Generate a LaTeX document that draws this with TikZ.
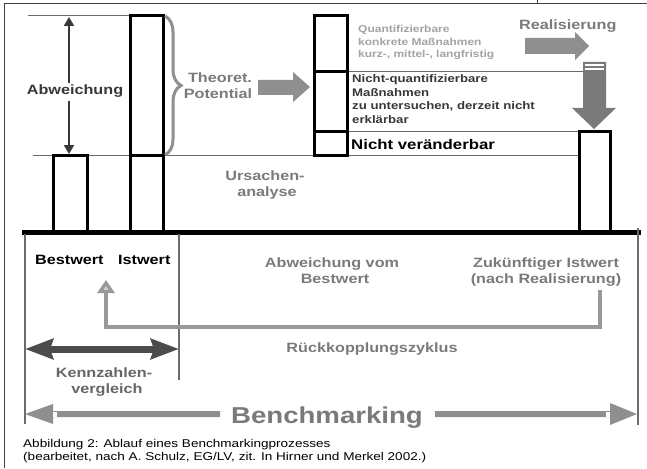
\documentclass[tikz,border=0pt]{standalone}
\usepackage{fontspec}
\setmainfont{Liberation Sans}[FakeStretch=1.2]
\usetikzlibrary{arrows.meta,decorations.pathreplacing}
\definecolor{txtgray}{gray}{0.48}
\definecolor{ltgray}{gray}{0.64}
\definecolor{dkgray}{gray}{0.22}
\definecolor{linegray}{gray}{0.42}
\definecolor{arrgray}{gray}{0.56}
\definecolor{loopgray}{gray}{0.6}
\begin{document}
\begin{tikzpicture}[x=1pt,y=-1pt,
  lbl/.style={inner sep=0pt,font=\fontsize{13.5}{16}\selectfont\bfseries},
  small/.style={inner sep=0pt,font=\fontsize{10}{12}\selectfont\bfseries},
  mid/.style={inner sep=0pt,font=\fontsize{11}{13}\selectfont\bfseries},
  capt/.style={inner sep=0pt,font=\fontsize{11.3}{13}\selectfont},
  box/.style={draw=black,line width=3pt},
  thin/.style={draw=linegray,line width=1pt},
  vline/.style={draw=linegray,line width=1.5pt},
  fatarrow/.style={fill=arrgray},
  dbl/.style={draw=dkgray,line width=2.5pt,-{Triangle[length=9pt,width=10pt]}},
  loop/.style={draw=loopgray,line width=4pt},
]
\useasboundingbox (0,0) rectangle (647,468);
\fill[white] (0,0) rectangle (647,468);
% frame
\draw[black!75,line width=1pt] (4,468) -- (4,4) -- (647,4);
\draw[black!75,line width=1pt] (537,0) -- (537,4);

% thin guide lines
\draw[thin] (28,16) -- (130,16);
\draw[thin] (33,155) -- (578,155);
\draw[thin] (347,72) -- (605,72);
\draw[thin] (347,131) -- (578,131);

% boxes
\draw[box] (53,155) rectangle (87,231);
\draw[box] (130,16) rectangle (163,231);
\draw[box] (130,155) -- (163,155);
\draw[box] (314,16) rectangle (347,155);
\draw[box] (314,72) -- (347,72);
\draw[box] (314,131) -- (347,131);
\draw[box] (579,131) rectangle (610,231);

% base line
\draw[line width=5pt] (22,232) -- (641,232);

% vertical lines below
\draw[vline] (25,234) -- (25,424);
\draw[vline] (179,234) -- (179,380);
\draw[vline] (638,228) -- (638,425);

% Abweichung double arrow
\node[lbl,text=dkgray,anchor=base,inner sep=2.5pt] (abw) at (75,95) {Abweichung};
\coordinate (abwtop) at (69,17);
\coordinate (abwbot) at (69,154);
\draw[dbl] (abw.north -| abwtop) -- (abwtop);
\draw[dbl] (abw.south -| abwbot) -- (abwbot);

% brace
\draw[arrgray,line width=3pt,decorate,
      decoration={brace,amplitude=16pt}] (165,16) -- (165,155);

% Theoret. Potential
\node[lbl,text=txtgray,anchor=base] (theo) at (220,83) {Theoret.};
\node[lbl,text=txtgray,anchor=base] (pot) at (218,99) {Potential};
\fill[fatarrow] (258,80) -- (293,80) -- (293,72) -- (310,87) -- (293,102) -- (293,95) -- (258,95) -- cycle;

% right column texts
\node[small,text=ltgray,anchor=base west] (q1) at (358,33) {Quantifizierbare};
\node[small,text=ltgray,anchor=base west] (q2) at (358,46) {konkrete Maßnahmen};
\node[small,text=ltgray,anchor=base west] (q3) at (358,58) {kurz-, mittel-, langfristig};
\node[mid,text=dkgray,anchor=base west] (n1) at (352,83) {Nicht-quantifizierbare};
\node[mid,text=dkgray,anchor=base west] (n2) at (352,97) {Maßnahmen};
\node[mid,text=dkgray,anchor=base west] (n3) at (352,110) {zu untersuchen, derzeit nicht};
\node[mid,text=dkgray,anchor=base west] (n4) at (352,123) {erklärbar};
\node[inner sep=0pt,font=\fontsize{14}{16}\selectfont\bfseries,anchor=base west] (nv) at (351,149) {Nicht veränderbar};

% Realisierung
\node[lbl,text=txtgray,anchor=base west] (real) at (519,30) {Realisierung};
\fill[fatarrow] (525,38) -- (575,38) -- (575,32) -- (589,46) -- (575,60) -- (575,54) -- (525,54) -- cycle;
% down arrow
\fill[black!52] (583,62) -- (606,62) -- (606,108) -- (616,108) -- (594,129) -- (572,108) -- (583,108) -- cycle;
\draw[white,line width=1.2pt] (585,65) -- (604,65);
\draw[white,line width=1.2pt] (585,69) -- (604,69);

% Ursachenanalyse
\node[lbl,text=txtgray,anchor=base] (urs1) at (265,180) {Ursachen-};
\node[lbl,text=txtgray,anchor=base] (urs2) at (267,196) {analyse};

% lower labels
\node[lbl,anchor=base west] (best) at (35,264) {Bestwert};
\node[lbl,anchor=base west] (ist) at (118,264) {Istwert};
\node[lbl,text=txtgray,anchor=base] (av1) at (332,267) {Abweichung vom};
\node[lbl,text=txtgray,anchor=base] (av2) at (335,283) {Bestwert};
\node[lbl,text=txtgray,anchor=base] (zk1) at (546,267) {Zukünftiger Istwert};
\node[lbl,text=txtgray,anchor=base] (zk2) at (546,283) {(nach Realisierung)};
\node[lbl,text=txtgray,anchor=base] (rk) at (372,352) {Rückkopplungszyklus};

% feedback loop
\coordinate (loopstart) at (600,290);
\coordinate (loopend) at (106,280);
\draw[loop,-{Triangle[length=13pt,width=17pt,fill=black!18]}] (loopstart) -- (600,327) -- (106,327) -- (loopend);

% Kennzahlenvergleich
\coordinate (kvl) at (25,349);
\coordinate (kvr) at (179,349);
\draw[draw=black!70,line width=7pt,{Stealth[length=28pt,width=20pt,inset=3pt]}-{Stealth[length=28pt,width=20pt,inset=3pt]}] (kvl) -- (kvr);
\node[lbl,text=black!60,anchor=base] (kz1) at (104,377) {Kennzahlen-};
\node[lbl,text=black!60,anchor=base] (kz2) at (107,393) {vergleich};

% Benchmarking
\node[inner sep=0pt,font=\fontsize{23}{26}\selectfont\bfseries,text=txtgray,anchor=base] (bm) at (327,423) {Benchmarking};
\fill[fatarrow] (220,411) -- (53,411) -- (53,404) -- (25,414) -- (53,424) -- (53,417) -- (220,417) -- cycle;
\fill[white] (53,411.5) rectangle (57,416.5);
\fill[fatarrow] (435,411) -- (610,411) -- (610,403) -- (637,414) -- (610,425) -- (610,417) -- (435,417) -- cycle;
\fill[white] (606,411.5) rectangle (610,416.5);

% caption
\node[capt,anchor=base west] (cap1) at (23,447) {Abbildung 2: Ablauf eines Benchmarkingprozesses};
\node[capt,anchor=base west] (cap2) at (23,460) {(bearbeitet, nach A. Schulz, EG/LV, zit. In Hirner und Merkel 2002.)};
\end{tikzpicture}
\end{document}
